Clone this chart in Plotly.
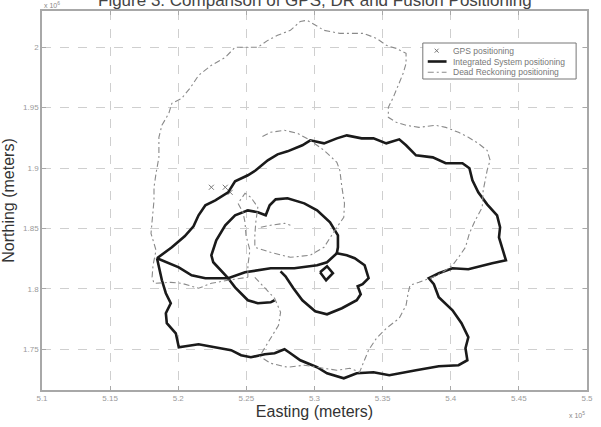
import plotly.graph_objects as go

# ---------------- data (Easting x1e5 m, Northing x1e6 m) ----------------
# Integrated System positioning: outer loop
ins_outer_e = [5.1844, 5.1953, 5.2047, 5.2112, 5.2149, 5.2199, 5.2272, 5.2366, 5.2417, 5.2511,
               5.2569, 5.2657, 5.2729, 5.2802, 5.2911, 5.2969, 5.3070, 5.3164, 5.3237, 5.3346,
               5.3433, 5.3527, 5.3622, 5.3672, 5.3745, 5.3868, 5.3963, 5.4086, 5.4137, 5.4159,
               5.4202, 5.4267, 5.4340, 5.4362, 5.4354, 5.4384, 5.4405, 5.4304, 5.4129, 5.4013,
               5.3912, 5.3839, 5.3876, 5.3912, 5.4013, 5.4079, 5.4129, 5.4108, 5.4122, 5.4057,
               5.3912, 5.3745, 5.3549, 5.3433, 5.3310, 5.3215, 5.3092, 5.3019, 5.2896, 5.2823,
               5.2780, 5.2707, 5.2635, 5.2533, 5.2461, 5.2388, 5.2272, 5.2149, 5.2004, 5.1982,
               5.1916, 5.1909, 5.1945, 5.1909, 5.1880, 5.1858, 5.1844]
ins_outer_n = [1.8254, 1.8345, 1.8436, 1.8518, 1.8609, 1.8692, 1.8733, 1.8799, 1.8890, 1.8940,
               1.8981, 1.9064, 1.9113, 1.9138, 1.9188, 1.9229, 1.9204, 1.9245, 1.9270, 1.9245,
               1.9245, 1.9204, 1.9237, 1.9188, 1.9105, 1.9088, 1.9039, 1.9039, 1.8998, 1.8898,
               1.8799, 1.8700, 1.8609, 1.8510, 1.8427, 1.8320, 1.8237, 1.8212, 1.8163, 1.8171,
               1.8130, 1.8089, 1.8039, 1.7932, 1.7824, 1.7717, 1.7601, 1.7510, 1.7411, 1.7370,
               1.7361, 1.7328, 1.7287, 1.7312, 1.7303, 1.7262, 1.7303, 1.7353, 1.7411, 1.7469,
               1.7502, 1.7469, 1.7460, 1.7436, 1.7452, 1.7494, 1.7518, 1.7543, 1.7518, 1.7634,
               1.7717, 1.7799, 1.7882, 1.7965, 1.8072, 1.8179, 1.8254]
# Integrated: cross line from the western point
ins_cross_e = [5.1844, 5.2004, 5.2098, 5.2199, 5.2366, 5.2490, 5.2678, 5.2852, 5.3019, 5.3092, 5.3164]
ins_cross_n = [1.8254, 1.8179, 1.8113, 1.8089, 1.8089, 1.8138, 1.8171, 1.8171, 1.8196, 1.8221, 1.8295]
# Integrated: central loop and eastern lobe
ins_inner_e = [5.2366, 5.2308, 5.2257, 5.2243, 5.2279, 5.2345, 5.2417, 5.2511, 5.2584, 5.2642,
               5.2671, 5.2715, 5.2802, 5.2925, 5.3019, 5.3114, 5.3172, 5.3172, 5.3164, 5.3237,
               5.3295, 5.3368, 5.3397, 5.3353, 5.3317, 5.3339, 5.3310, 5.3201, 5.3092, 5.3005,
               5.2911, 5.2845, 5.2787, 5.2751]
ins_inner_n = [1.8089, 1.8155, 1.8221, 1.8279, 1.8403, 1.8527, 1.8609, 1.8650, 1.8634, 1.8609,
               1.8692, 1.8741, 1.8750, 1.8708, 1.8650, 1.8551, 1.8444, 1.8345, 1.8295, 1.8279,
               1.8254, 1.8196, 1.8089, 1.8039, 1.8022, 1.7956, 1.7907, 1.7841, 1.7791, 1.7816,
               1.7907, 1.8006, 1.8105, 1.8146]
# Integrated: start branch
ins_branch_e = [5.2366, 5.2417, 5.2511, 5.2584, 5.2678, 5.2707]
ins_branch_n = [1.8089, 1.8014, 1.7907, 1.7882, 1.7890, 1.7907]
# Integrated: small square
ins_sq_e = [5.3041, 5.3092, 5.3135, 5.3085, 5.3041]
ins_sq_n = [1.8138, 1.8188, 1.8130, 1.8072, 1.8138]

# Dead Reckoning positioning: main loop
dr_main_e = [5.2562, 5.2635, 5.2707, 5.2751, 5.2736, 5.2678, 5.2628, 5.2598, 5.2678, 5.2802,
             5.2925, 5.3056, 5.3164, 5.3259, 5.3331, 5.3360, 5.3397, 5.3455, 5.3527, 5.3622,
             5.3672, 5.3687, 5.3701, 5.3767, 5.3868, 5.3941, 5.4013, 5.4057, 5.4108, 5.4137,
             5.4180, 5.4231, 5.4238, 5.4253, 5.4267, 5.4289, 5.4267, 5.4202, 5.4129, 5.4057,
             5.3963, 5.3890, 5.3767, 5.3672, 5.3600, 5.3542, 5.3542, 5.3578, 5.3622, 5.3651,
             5.3672, 5.3672, 5.3600, 5.3527, 5.3455, 5.3360, 5.3186, 5.3070, 5.2947, 5.2896,
             5.2823, 5.2729, 5.2657, 5.2584, 5.2490, 5.2417, 5.2345, 5.2243, 5.2149, 5.2091,
             5.2025, 5.1953, 5.1931, 5.1880, 5.1858, 5.1858, 5.1837, 5.1822, 5.1822, 5.1808,
             5.1800, 5.1837, 5.1815, 5.1808, 5.1822, 5.1945, 5.2025, 5.2149, 5.2243, 5.2366,
             5.2511]
dr_main_n = [1.8097, 1.8006, 1.7923, 1.7808, 1.7700, 1.7593, 1.7494, 1.7444, 1.7386, 1.7353,
             1.7370, 1.7345, 1.7328, 1.7345, 1.7312, 1.7394, 1.7494, 1.7593, 1.7675, 1.7758,
             1.7865, 1.7965, 1.8031, 1.8055, 1.8097, 1.8138, 1.8196, 1.8262, 1.8345, 1.8460,
             1.8568, 1.8675, 1.8816, 1.8898, 1.8981, 1.9064, 1.9146, 1.9204, 1.9254, 1.9295,
             1.9336, 1.9353, 1.9336, 1.9353, 1.9378, 1.9419, 1.9502, 1.9584, 1.9700, 1.9783,
             1.9865, 1.9948, 1.9989, 2.0014, 2.0072, 2.0113, 2.0113, 2.0138, 2.0221, 2.0212,
             2.0138, 2.0097, 2.0055, 1.9998, 1.9998, 1.9998, 1.9915, 1.9849, 1.9766, 1.9667,
             1.9576, 1.9535, 1.9452, 1.9353, 1.9254, 1.9088, 1.8956, 1.8841, 1.8733, 1.8593,
             1.8460, 1.8320, 1.8196, 1.8097, 1.8047, 1.8055, 1.8047, 1.8006, 1.8047, 1.8072,
             1.8097]
# Dead Reckoning: inner loop
dr_inner_e = [5.2511, 5.2511, 5.2526, 5.2497, 5.2490, 5.2475, 5.2439, 5.2490, 5.2533, 5.2584,
              5.2569, 5.2562, 5.2562, 5.2678, 5.2823, 5.2969, 5.3070, 5.3114, 5.3164, 5.3215,
              5.3220, 5.3201, 5.3186, 5.3164, 5.3070, 5.2969, 5.2874, 5.2780, 5.2678, 5.2606]
dr_inner_n = [1.8097, 1.8196, 1.8320, 1.8444, 1.8551, 1.8634, 1.8708, 1.8791, 1.8758, 1.8675,
              1.8551, 1.8444, 1.8345, 1.8303, 1.8262, 1.8279, 1.8345, 1.8427, 1.8510, 1.8593,
              1.8708, 1.8841, 1.8981, 1.9047, 1.9146, 1.9229, 1.9287, 1.9312, 1.9295, 1.9254]
dr_bit_e = [5.2606, 5.2678, 5.2780, 5.2823]
dr_bit_n = [1.8510, 1.8527, 1.8543, 1.8527]

# GPS positioning fixes
gps_e = [5.2243, 5.2345, 5.2381]
gps_n = [1.8841, 1.8841, 1.8799]

x_ticks = [5.1, 5.15, 5.2, 5.25, 5.3, 5.35, 5.4, 5.45, 5.5]
x_labels = ["5.1", "5.15", "5.2", "5.25", "5.3", "5.35", "5.4", "5.45", "5.5"]
y_ticks = [1.75, 1.8, 1.85, 1.9, 1.95, 2.0]
y_labels = ["1.75", "1.8", "1.85", "1.9", "1.95", "2"]

legend_labels = ["GPS positioning", "Integrated System positioning", "Dead Reckoning positioning"]


def join(*segs):
    out = []
    for i, s in enumerate(segs):
        if i:
            out.append(None)
        out.extend(s)
    return out


ins_e = join(ins_outer_e, ins_cross_e, ins_inner_e, ins_branch_e, ins_sq_e)
ins_n = join(ins_outer_n, ins_cross_n, ins_inner_n, ins_branch_n, ins_sq_n)
dr_e = join(dr_main_e, dr_inner_e, dr_bit_e)
dr_n = join(dr_main_n, dr_inner_n, dr_bit_n)

FONT = "Liberation Sans, Arial, sans-serif"
INS_COLOR = "#1a1a1a"
DR_COLOR = "#8a8a8a"
DR_DASH = "6px,3px,2px,3px"
GPS_COLOR = "#777"

fig = go.Figure()
fig.add_trace(go.Scatter(x=gps_e, y=gps_n, mode="markers", name=legend_labels[0],
                         marker=dict(symbol="x-thin", size=5, color=GPS_COLOR,
                                     line=dict(width=1, color=GPS_COLOR))))
fig.add_trace(go.Scatter(x=ins_e, y=ins_n, mode="lines", name=legend_labels[1],
                         line=dict(color=INS_COLOR, width=2.6), connectgaps=False))
fig.add_trace(go.Scatter(x=dr_e, y=dr_n, mode="lines", name=legend_labels[2],
                         line=dict(color=DR_COLOR, width=1.1, dash=DR_DASH),
                         connectgaps=False))

axis_common = dict(showline=True, linecolor="#a8a8a8", linewidth=1.5, mirror="ticks",
                   ticks="inside", ticklen=4, tickcolor="#a8a8a8",
                   showgrid=True, gridcolor="#cfcfcf", griddash="dash", gridwidth=1,
                   zeroline=False, tickfont=dict(size=8, color="#9a9a9a", family=FONT))

# ---- hand-built legend box (compact, like the original) ----
L, T, PW, PH = 42, 11, 551, 379


def px(x):
    return (x - L) / PW


def py(y):
    return 1 - (y - T) / PH


shapes = [dict(type="rect", xref="paper", yref="paper", x0=px(427), x1=px(582),
               y0=py(79), y1=py(43), line=dict(color="#777", width=1), fillcolor="white")]
row_y = [50.7, 61.5, 72.3]
# GPS sample: small x
shapes += [dict(type="line", xref="paper", yref="paper", x0=px(439), x1=px(443),
                y0=py(row_y[0] - 2), y1=py(row_y[0] + 2), line=dict(color=GPS_COLOR, width=1)),
           dict(type="line", xref="paper", yref="paper", x0=px(439), x1=px(443),
                y0=py(row_y[0] + 2), y1=py(row_y[0] - 2), line=dict(color=GPS_COLOR, width=1))]
shapes.append(dict(type="line", xref="paper", yref="paper", x0=px(432), x1=px(451),
                   y0=py(row_y[1]), y1=py(row_y[1]), line=dict(color=INS_COLOR, width=2.6)))
shapes.append(dict(type="line", xref="paper", yref="paper", x0=px(432), x1=px(451),
                   y0=py(row_y[2]), y1=py(row_y[2]), line=dict(color=DR_COLOR, width=1.1, dash=DR_DASH)))

annotations = [
    dict(text="Figure 3. Comparison of GPS, DR and Fusion Positioning", xref="paper", yref="paper",
         x=px(318), y=1.0, xanchor="center", yanchor="bottom", yshift=-1, showarrow=False,
         font=dict(size=17, color="#444", family=FONT)),
    dict(text="x 10<sup>6</sup>", xref="paper", yref="paper", x=0.0, y=1.0,
         xanchor="left", yanchor="bottom", showarrow=False,
         font=dict(size=7, color="#888", family=FONT)),
    dict(text="x 10<sup>5</sup>", xref="paper", yref="paper", x=1.0, y=-0.05,
         xanchor="right", yanchor="top", showarrow=False,
         font=dict(size=7, color="#888", family=FONT)),
]
for lab, yy in zip(legend_labels, row_y):
    annotations.append(dict(text=lab, xref="paper", yref="paper", x=px(455), y=py(yy),
                            xanchor="left", yanchor="middle", showarrow=False,
                            font=dict(size=8.5, color="#777", family=FONT)))

fig.update_layout(
    width=601, height=427, autosize=False,
    margin=dict(l=L, r=601 - L - PW, t=T, b=427 - T - PH),
    paper_bgcolor="white", plot_bgcolor="white",
    font=dict(family=FONT, color="#333"),
    showlegend=False,
    xaxis=dict(range=[5.1, 5.5], tickvals=x_ticks, ticktext=x_labels,
               title=dict(text="Easting (meters)", font=dict(size=16, color="#333"), standoff=2),
               **axis_common),
    yaxis=dict(range=[1.7165, 2.0298], tickvals=y_ticks, ticktext=y_labels,
               title=dict(text="Northing (meters)", font=dict(size=16, color="#333"), standoff=4),
               **axis_common),
    shapes=shapes,
    annotations=annotations,
)

fig.write_html("out.html")
